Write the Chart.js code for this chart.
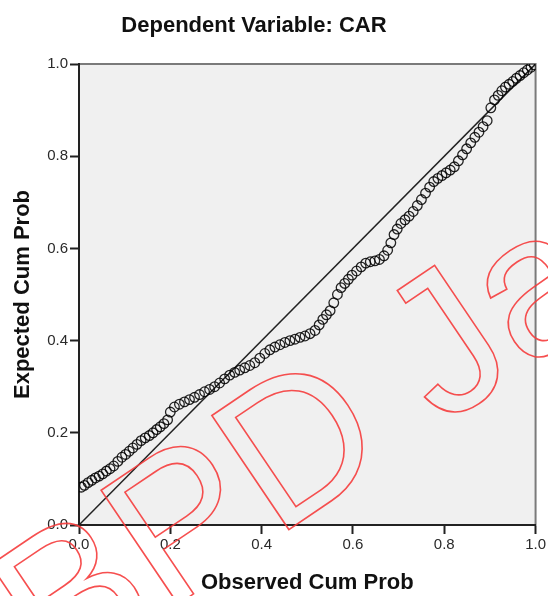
<!DOCTYPE html>
<html>
<head>
<meta charset="utf-8">
<script src="https://cdn.jsdelivr.net/npm/chart.js@4.4.0/dist/chart.umd.min.js"></script>
<style>
  html, body { margin: 0; padding: 0; background: #fff; overflow: hidden; }
  #wrap { width: 548px; height: 596px; position: relative; }
</style>
</head>
<body>
<div id="wrap"><canvas id="ppPlot"></canvas></div>
<script>
// P-P plot of regression standardized residual
const chartTitle = 'Dependent Variable: CAR';
const xTitle = 'Observed Cum Prob';
const yTitle = 'Expected Cum Prob';
const tickValues = [0.0, 0.2, 0.4, 0.6, 0.8, 1.0];

const observedCum = [
  0.005, 0.012, 0.020, 0.028, 0.036, 0.044, 0.052, 0.060, 0.068, 0.076,
  0.085, 0.094, 0.102, 0.110, 0.118, 0.127, 0.136, 0.145, 0.154, 0.162,
  0.170, 0.178, 0.186, 0.194, 0.200, 0.209, 0.220, 0.231, 0.242, 0.253,
  0.264, 0.275, 0.286, 0.297, 0.308, 0.319, 0.330, 0.341, 0.352, 0.363,
  0.374, 0.385, 0.396, 0.407, 0.418, 0.429, 0.440, 0.451, 0.462, 0.473,
  0.484, 0.495, 0.506, 0.517, 0.526, 0.534, 0.542, 0.550, 0.558, 0.566,
  0.574, 0.582, 0.590, 0.598, 0.608, 0.618, 0.628, 0.638, 0.648, 0.658,
  0.668, 0.676, 0.683, 0.690, 0.697, 0.705, 0.714, 0.723, 0.732, 0.741,
  0.750, 0.759, 0.768, 0.777, 0.786, 0.795, 0.804, 0.813, 0.822, 0.831,
  0.840, 0.849, 0.858, 0.867, 0.876, 0.885, 0.894, 0.902, 0.910, 0.918,
  0.926, 0.934, 0.942, 0.950, 0.958, 0.966, 0.974, 0.982, 0.990, 0.997
];
const expectedCum = [
  0.082, 0.086, 0.092, 0.097, 0.102, 0.106, 0.111, 0.117, 0.122, 0.128,
  0.138, 0.147, 0.153, 0.160, 0.167, 0.175, 0.183, 0.189, 0.194, 0.200,
  0.207, 0.213, 0.220, 0.228, 0.245, 0.256, 0.262, 0.267, 0.272, 0.277,
  0.283, 0.289, 0.294, 0.300, 0.308, 0.317, 0.325, 0.331, 0.336, 0.341,
  0.346, 0.352, 0.362, 0.372, 0.380, 0.386, 0.391, 0.396, 0.400, 0.403,
  0.407, 0.410, 0.415, 0.422, 0.434, 0.446, 0.456, 0.465, 0.482, 0.500,
  0.515, 0.524, 0.533, 0.542, 0.551, 0.560, 0.568, 0.571, 0.573, 0.576,
  0.584, 0.596, 0.612, 0.630, 0.642, 0.654, 0.662, 0.670, 0.680, 0.693,
  0.706, 0.720, 0.733, 0.745, 0.752, 0.758, 0.764, 0.770, 0.777, 0.790,
  0.803, 0.816, 0.829, 0.841, 0.852, 0.864, 0.877, 0.905, 0.922, 0.932,
  0.942, 0.950, 0.956, 0.962, 0.969, 0.975, 0.981, 0.987, 0.993, 0.998
];
const refLine = [[0, 0], [1, 1]];

const watermarkText = 'BPD Ja';

const points = observedCum.map((v, i) => ({ x: v, y: expectedCum[i] }));

const fontFam = '"Liberation Sans", Arial, sans-serif';

const spssBackground = {
  id: 'spssBackground',
  beforeDraw(chart) {
    const ctx = chart.ctx, a = chart.chartArea;
    ctx.save();
    ctx.fillStyle = '#ffffff';
    ctx.fillRect(0, 0, chart.width, chart.height);
    ctx.fillStyle = '#f0f0f0';
    ctx.fillRect(a.left, a.top, a.right - a.left, a.bottom - a.top);
    ctx.strokeStyle = '#7a7a7a';
    ctx.lineWidth = 2;
    ctx.strokeRect(a.left, a.top, a.right - a.left, a.bottom - a.top);
    ctx.restore();
  },
  afterDraw(chart) {
    const ctx = chart.ctx;
    ctx.save();
    ctx.fillStyle = '#111';
    ctx.font = 'bold 22px ' + fontFam;
    ctx.textAlign = 'center';
    ctx.textBaseline = 'alphabetic';
    ctx.fillText(chartTitle, 254, 32);
    // red stamp across the chart
    ctx.translate(54, 688);
    ctx.rotate(-34 * Math.PI / 180);
    ctx.font = '200px ' + fontFam;
    ctx.textAlign = 'left';
    ctx.strokeStyle = 'rgba(245, 60, 60, 0.9)';
    ctx.lineWidth = 1.6;
    ctx.strokeText(watermarkText, 0, 0);
    ctx.restore();
  }
};

const axisCommon = {
  type: 'linear',
  min: 0,
  max: 1,
  afterBuildTicks: s => { s.ticks = tickValues.map(v => ({ value: v })); },
  ticks: {
    callback: v => Number(v).toFixed(1),
    font: { family: fontFam, size: 15 },
    color: '#2a2a2a',
    padding: 2
  },
  grid: {
    display: true,
    drawOnChartArea: false,
    drawTicks: true,
    tickLength: 9,
    tickColor: '#222',
    tickWidth: 2
  },
  border: { display: true, color: '#222', width: 2 }
};

new Chart(document.getElementById('ppPlot'), {
  type: 'scatter',
  data: {
    datasets: [
      {
        data: points,
        pointRadius: 4.8,
        pointBorderWidth: 1.3,
        pointBorderColor: 'rgba(0,0,0,0.85)',
        pointBackgroundColor: 'rgba(0,0,0,0)',
        showLine: false
      },
      {
        data: refLine.map(p => ({ x: p[0], y: p[1] })),
        showLine: true,
        borderColor: '#222',
        borderWidth: 1.5,
        pointRadius: 0
      }
    ]
  },
  options: {
    responsive: true,
    maintainAspectRatio: false,
    animation: false,
    layout: { padding: { top: 64, right: 0, bottom: 0, left: 0 } },
    plugins: {
      legend: { display: false },
      tooltip: { enabled: false },
      title: { display: false }
    },
    scales: {
      x: Object.assign({}, axisCommon, {
        afterFit: s => { s.height = 71; },
        title: {
          display: true,
          text: xTitle,
          color: '#111',
          font: { family: fontFam, size: 22, weight: 'bold' },
          padding: { top: 0, bottom: 0 }
        }
      }),
      y: Object.assign({}, axisCommon, {
        afterFit: s => { s.width = 79; },
        title: {
          display: true,
          text: yTitle,
          color: '#111',
          font: { family: fontFam, size: 22, weight: 'bold' },
          padding: { top: 10, bottom: 0 }
        }
      })
    }
  },
  plugins: [spssBackground]
});
</script>
</body>
</html>
